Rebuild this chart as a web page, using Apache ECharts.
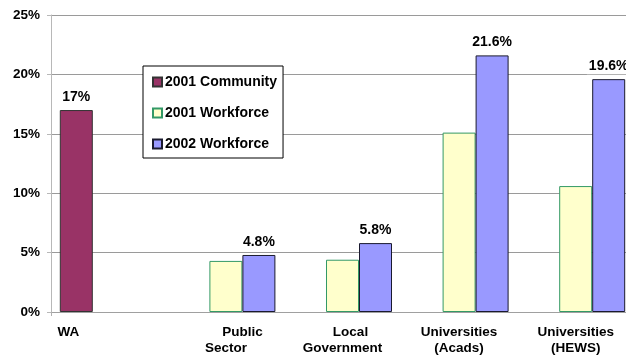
<!DOCTYPE html>
<html>
<head>
<meta charset="utf-8">
<script src="https://cdn.jsdelivr.net/npm/echarts@6/dist/echarts.min.js"></script>
<style>
  html, body { margin: 0; padding: 0; background: #fff; }
  #chart { width: 626px; height: 356px; }
</style>
</head>
<body>
<div id="chart"></div>
<script>
// Category keys and their axis captions (two lines for the longer ones)
const categories = ['WA', 'Public Sector', 'Local Government', 'Universities (Acads)', 'Universities (HEWS)'];
const yTicks = [0, 5, 10, 15, 20, 25];

// Percentages per category; '-' leaves the slot empty
const community2001 = [17, '-', '-', '-', '-'];
const workforce2001 = ['-', 4.3, 4.4, 15.1, 10.6];
const workforce2002 = ['-', 4.8, 5.8, 21.6, 19.6];

const FONT = '"Liberation Sans", Arial, sans-serif';

// Caption layout per category: line tokens with rich style names
const captions = {
  'WA': '{wa|WA}',
  'Public Sector': '{pub|Public}\n{c|Sector}',
  'Local Government': '{loc|Local}\n{c|Government}',
  'Universities (Acads)': '{c|Universities}\n{c|(Acads)}',
  'Universities (HEWS)': '{c|Universities}\n{c|(HEWS)}'
};

const labelBase = {
  fontFamily: FONT, fontWeight: 'bold', fontSize: 13.5, color: '#000', lineHeight: 16
};

const chart = echarts.init(document.getElementById('chart'), null, { renderer: 'canvas' });

// The plot runs a little past the right edge of the canvas
chart.setOption({
  animation: false,
  backgroundColor: '#fff',
  textStyle: { fontFamily: FONT },
  grid: { left: 51, width: 583, top: 15, bottom: 44, containLabel: false, outerBoundsMode: 'none' },
  legend: {
    orient: 'vertical',
    left: 143,
    top: 66,
    width: 139,
    data: ['2001 Community', '2001 Workforce', '2002 Workforce'],
    backgroundColor: '#fff',
    borderColor: '#000',
    borderWidth: 1,
    padding: [8, 6, 6, 9],
    itemWidth: 9,
    itemHeight: 9,
    itemGap: 15,
    icon: 'rect',
    textStyle: { fontFamily: FONT, fontWeight: 'bold', fontSize: 14, color: '#000', lineHeight: 16, padding: [0, 0, 0, -2] }
  },
  xAxis: {
    type: 'category',
    data: categories,
    axisLine: { show: true, lineStyle: { color: '#a0a0a0', width: 1 } },
    axisTick: { show: true, length: 4, interval: function (i) { return i === 0; }, lineStyle: { color: '#b0b0b0' } },
    axisLabel: {
      interval: 0,
      margin: 12,
      formatter: function (v) { return captions[v]; },
      rich: {
        c: labelBase,
        wa: Object.assign({}, labelBase, { padding: [0, 82, 0, 0] }),
        pub: Object.assign({}, labelBase, { padding: [0, 0, 0, 33] }),
        loc: Object.assign({}, labelBase, { padding: [0, 0, 0, 16] })
      }
    },
    splitLine: { show: false }
  },
  yAxis: {
    type: 'value',
    min: 0,
    max: 25,
    interval: 5,
    axisLine: { show: true, lineStyle: { color: '#b8b8b8', width: 1 } },
    axisTick: { show: true, length: 4, lineStyle: { color: '#b8b8b8' } },
    axisLabel: {
      margin: 11,
      fontFamily: FONT, fontWeight: 'bold', fontSize: 13.5, color: '#000',
      formatter: function (v) { return yTicks.indexOf(v) >= 0 ? v + '%' : ''; }
    },
    splitLine: { show: true, lineStyle: { color: '#9a9a9a', width: 1 } }
  },
  series: [
    {
      name: '2001 Community',
      type: 'bar',
      data: community2001,
      barWidth: 33,
      barGap: '0%',
      itemStyle: { color: '#993366', borderColor: '#333333', borderWidth: 1 },
      label: {
        show: true, position: 'top', distance: 6,
        formatter: function (p) { return p.value + '%'; },
        fontFamily: FONT, fontWeight: 'bold', fontSize: 14, color: '#000'
      }
    },
    {
      name: '2001 Workforce',
      type: 'bar',
      data: workforce2001,
      barWidth: 33,
      barGap: '0%',
      itemStyle: { color: '#FFFFCC', borderColor: '#339966', borderWidth: 1 }
    },
    {
      name: '2002 Workforce',
      type: 'bar',
      data: workforce2002,
      barWidth: 33,
      barGap: '0%',
      itemStyle: { color: '#9999FF', borderColor: '#1a1a2e', borderWidth: 1 },
      label: {
        show: true, position: 'top', distance: 5,
        formatter: function (p) { return p.value.toFixed(1) + '%'; },
        fontFamily: FONT, fontWeight: 'bold', fontSize: 14, color: '#000',
        backgroundColor: '#fff', padding: [1, 2, 1, 2]
      }
    }
  ]
});
</script>
</body>
</html>
